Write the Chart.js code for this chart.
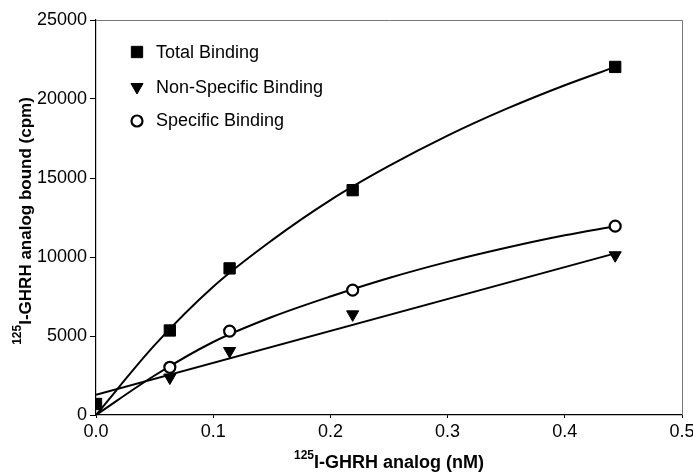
<!DOCTYPE html>
<html><head><meta charset="utf-8">
<script src="https://cdn.jsdelivr.net/npm/chart.js@4/dist/chart.umd.min.js"></script>
<style>html,body{margin:0;padding:0;background:#fff;} canvas{display:block;}</style>
</head><body>
<canvas id="c" width="693" height="474"></canvas>
<script>
const seriesNames = ['Total Binding', 'Non-Specific Binding', 'Specific Binding'];
const totalX = [0, 0.063, 0.114, 0.219, 0.443];
const totalY = [700, 5350, 9280, 14230, 22030];
const nonSpecificX = [0.063, 0.114, 0.219, 0.443];
const nonSpecificY = [2370, 4050, 6370, 10110];
const specificX = [0.063, 0.114, 0.219, 0.443];
const specificY = [3020, 5310, 7900, 11950];
// fitted curves
const fitX = [0, 0.05, 0.1, 0.15, 0.2, 0.25, 0.3, 0.35, 0.4, 0.443];
const totalFit = [0, 4420, 8120, 11050, 13600, 15760, 17680, 19370, 20870, 22030];
const specificFit = [0, 2500, 4620, 6200, 7500, 8670, 9690, 10580, 11370, 11950];
const nonSpecificFitX = [0, 0.443];
const nonSpecificFit = [1280, 10230];
const xTickLabels = ['0.0', '0.1', '0.2', '0.3', '0.4', '0.5'];
const yTickLabels = ['0', '5000', '10000', '15000', '20000', '25000'];
const xTitleSup = '125', xTitleMain = 'I-GHRH analog (nM)';
const yTitleSup = '125', yTitleMain = 'I-GHRH analog bound (cpm)';

const FONT = '"Liberation Sans", Arial, sans-serif';
const pts = (xs, ys) => xs.map((x, i) => ({x: x, y: ys[i]}));

const markerStyles = [
  {pointStyle: 'rect', pointRadius: 8, pointRotation: 0, backgroundColor: '#000', borderColor: '#000', borderWidth: 1},
  {pointStyle: 'triangle', pointRadius: 7, pointRotation: 180, backgroundColor: '#000', borderColor: '#000', borderWidth: 1},
  {pointStyle: 'circle', pointRadius: 5.5, pointRotation: 0, backgroundColor: '#fff', borderColor: '#000', borderWidth: 2.2}
];

function curve(label, data, mono) {
  return {label: label, data: data, showLine: true, pointRadius: 0, pointHoverRadius: 0,
    borderColor: '#000', borderWidth: 2, fill: false, tension: mono ? 0.4 : 0,
    cubicInterpolationMode: mono ? 'monotone' : 'default', order: 2};
}
function markers(i, data) {
  const s = markerStyles[i];
  return Object.assign({label: seriesNames[i], data: data, showLine: false, order: 0,
    pointHoverRadius: s.pointRadius, pointBorderWidth: s.borderWidth}, s);
}

function drawMarker(ctx, i, x, y) {
  const s = markerStyles[i];
  ctx.save();
  ctx.fillStyle = s.backgroundColor; ctx.strokeStyle = s.borderColor; ctx.lineWidth = s.borderWidth;
  ctx.beginPath();
  const r = s.pointRadius;
  if (s.pointStyle === 'rect') {
    const h = r * Math.SQRT1_2;
    ctx.rect(x - h, y - h, 2 * h, 2 * h);
  } else if (s.pointStyle === 'triangle') {
    const w = r * Math.sin(Math.PI / 3);
    ctx.moveTo(x, y + r); ctx.lineTo(x - w, y - r / 2); ctx.lineTo(x + w, y - r / 2); ctx.closePath();
  } else {
    ctx.arc(x, y, r, 0, Math.PI * 2);
  }
  ctx.fill(); ctx.stroke();
  ctx.restore();
}

const decorPlugin = {
  id: 'decor',
  afterDraw(chart) {
    const ctx = chart.ctx, a = chart.chartArea;
    // frame on top and right
    ctx.save();
    ctx.strokeStyle = '#777'; ctx.lineWidth = 1;
    ctx.beginPath();
    ctx.moveTo(a.left, a.top + 0.5); ctx.lineTo(a.right + 0.5, a.top + 0.5); ctx.lineTo(a.right + 0.5, a.bottom);
    ctx.stroke();
    ctx.restore();
    // legend
    const rowY = [52, 87, 121], baseY = [57.5, 92.5, 126];
    ctx.save();
    ctx.font = '18px ' + FONT; ctx.fillStyle = '#000'; ctx.textBaseline = 'alphabetic'; ctx.textAlign = 'left';
    for (let i = 0; i < seriesNames.length; i++) {
      drawMarker(ctx, i, 137, rowY[i]);
      ctx.fillText(seriesNames[i], 156, baseY[i]);
    }
    ctx.restore();
    // x title
    ctx.save();
    ctx.fillStyle = '#000'; ctx.textBaseline = 'alphabetic'; ctx.textAlign = 'left';
    const supF = 'bold 12px ' + FONT, mainF = 'bold 18px ' + FONT;
    ctx.font = supF; const ws = ctx.measureText(xTitleSup).width;
    ctx.font = mainF; const wm = ctx.measureText(xTitleMain).width;
    let sx = (a.left + a.right) / 2 - (ws + wm) / 2;
    ctx.font = supF; ctx.fillText(xTitleSup, sx, 459);
    ctx.font = mainF; ctx.fillText(xTitleMain, sx + ws, 468);
    ctx.restore();
    // y title
    ctx.save();
    ctx.fillStyle = '#000'; ctx.textBaseline = 'alphabetic'; ctx.textAlign = 'left';
    ctx.translate(31, 221); ctx.rotate(-Math.PI / 2);
    const supF2 = 'bold 12px ' + FONT, mainF2 = 'bold 17px ' + FONT;
    ctx.font = supF2; const ws2 = ctx.measureText(yTitleSup).width;
    ctx.font = mainF2; const wm2 = ctx.measureText(yTitleMain).width;
    let sy = -(ws2 + wm2) / 2;
    ctx.font = supF2; ctx.fillText(yTitleSup, sy, -10);
    ctx.font = mainF2; ctx.fillText(yTitleMain, sy + ws2, 0);
    ctx.restore();
  }
};

new Chart(document.getElementById('c'), {
  type: 'scatter',
  data: {
    datasets: [
      markers(0, pts(totalX, totalY)),
      markers(1, pts(nonSpecificX, nonSpecificY)),
      markers(2, pts(specificX, specificY)),
      curve('Total fit', pts(fitX, totalFit), true),
      curve('Non-specific fit', pts(nonSpecificFitX, nonSpecificFit), false),
      curve('Specific fit', pts(fitX, specificFit), true)
    ]
  },
  options: {
    responsive: false,
    animation: false,
    devicePixelRatio: 1,
    layout: {padding: {top: 20, right: 11, left: 0, bottom: 0}},
    plugins: {legend: {display: false}, tooltip: {enabled: false}, title: {display: false}},
    scales: {
      x: {
        type: 'linear', min: 0, max: 0.5,
        ticks: {stepSize: 0.1, color: '#000', font: {family: FONT, size: 18}, padding: 3,
          maxRotation: 0, autoSkip: false,
          callback: (v, i) => xTickLabels[i]},
        grid: {display: true, drawOnChartArea: false, drawTicks: true, tickLength: 3, color: '#000', lineWidth: 1},
        border: {display: true, color: '#000', width: 1.2},
        afterFit(s) { s.height = 59; s.paddingLeft = 0; s.paddingRight = 0; }
      },
      y: {
        type: 'linear', min: 0, max: 25000,
        ticks: {stepSize: 5000, color: '#000', font: {family: FONT, size: 18}, padding: 3, autoSkip: false,
          callback: (v, i) => yTickLabels[i]},
        grid: {display: true, drawOnChartArea: false, drawTicks: true, tickLength: 6, color: '#000', lineWidth: 1},
        border: {display: true, color: '#000', width: 1.2},
        afterFit(s) { s.width = 96; s.paddingTop = 0; s.paddingBottom = 0; }
      }
    }
  },
  plugins: [decorPlugin]
});
</script>
</body></html>
